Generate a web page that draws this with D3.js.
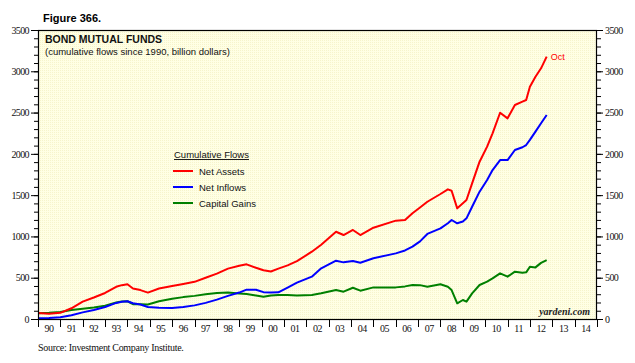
<!DOCTYPE html>
<html>
<head>
<meta charset="utf-8">
<script src="https://cdn.jsdelivr.net/npm/d3@7"></script>
<style>
  body { margin: 0; background: #fff; }
  svg { display: block; }
</style>
</head>
<body>
<svg id="chart" width="635" height="363"></svg>
<script>
// dates of the points
var dates = ["1990-01","1990-07","1991-01","1991-07","1992-01","1992-07","1993-01","1993-07","1993-10",
  "1994-01","1994-04","1994-08","1994-12","1995-06","1996-01","1996-07","1997-01","1997-07","1998-01",
  "1998-07","1999-01","1999-05","1999-10","2000-02","2000-06","2000-10","2001-03","2001-08","2002-04",
  "2002-09","2003-05","2003-09","2004-02","2004-06","2005-01","2006-01","2006-06","2006-10","2007-02",
  "2007-06","2008-01","2008-05","2008-07","2008-10","2009-01","2009-03","2009-06","2009-10","2010-02",
  "2010-05","2010-09","2011-01","2011-05","2011-09","2011-11","2012-01","2012-04","2012-07","2012-10"];

var netAssets = [73,65,75,130,210,260,315,390,410,
  420,370,350,320,370,400,425,450,500,550,
  610,645,662,620,590,575,610,650,700,815,
  900,1057,1017,1078,1017,1106,1191,1199,1280,1350,
  1420,1514,1570,1554,1340,1401,1441,1643,1905,2087,
  2249,2498,2430,2592,2632,2652,2813,2934,3036,3177];

var netInflows = [8,12,20,45,80,110,145,195,210,
  215,190,175,145,135,133,145,165,195,235,
  280,320,355,355,325,320,323,380,440,513,
  614,706,686,702,682,735,795,830,876,940,
  1030,1098,1160,1199,1159,1180,1219,1360,1542,1683,
  1804,1925,1925,2047,2080,2107,2170,2269,2370,2470];

var capitalGains = [70,75,85,110,125,140,160,200,212,
  215,180,180,175,215,245,265,280,300,315,
  320,310,303,285,270,285,290,290,285,290,
  311,351,331,379,343,383,383,395,412,410,
  391,420,391,351,190,230,210,311,412,452,
  492,553,513,573,561,565,633,625,680,714];

var yearLabels = ["90","91","92","93","94","95","96","97","98","99","00","01","02",
  "03","04","05","06","07","08","09","10","11","12","13","14"];
var yTicks = [0,500,1000,1500,2000,2500,3000,3500];

var seriesNames = ["Net Assets","Net Inflows","Capital Gains"];
var seriesColors = ["#ff0000","#0000ff","#008000"];
var seriesValues = [netAssets, netInflows, capitalGains];

var svg = d3.select("#chart");
var parse = d3.timeParse("%Y-%m");
var serif = "'Liberation Serif','Times New Roman',serif";
var sans = "'Liberation Sans',Arial,sans-serif";

// plot box (don't call these top/left: window.top is read-only)
var plotL = 38, plotR = 597, plotT = 30, plotB = 319;

var x = d3.scaleTime()
    .domain([new Date(1990,0,1), new Date(2015,0,1)])
    .range([plotL, plotR]);
var y = d3.scaleLinear()
    .domain([0, 3500])
    .range([plotB, plotT]);

// plot background with a faint dotted texture
var defs = svg.append("defs");
var pat = defs.append("pattern")
    .attr("id", "dots")
    .attr("width", 2).attr("height", 2)
    .attr("patternUnits", "userSpaceOnUse");
pat.append("rect").attr("width", 2).attr("height", 2).attr("fill", "#ffffe4");
pat.append("rect").attr("width", 1).attr("height", 1).attr("fill", "#f6f4cc");

svg.append("rect")
    .attr("x", plotL).attr("y", plotT)
    .attr("width", plotR - plotL).attr("height", plotB - plotT)
    .attr("fill", "url(#dots)");

// y axes, left and right
var yMinor = d3.range(0, 3501, 100);
var yAxisL = d3.axisLeft(y).tickValues(yTicks).tickSize(7).tickPadding(2).tickFormat(d3.format("d"));
var yAxisR = d3.axisRight(y).tickValues(yTicks).tickSize(6).tickPadding(2).tickFormat(d3.format("d"));

var gL = svg.append("g").attr("transform", "translate(" + plotL + ",0)");
gL.selectAll("line.minor").data(yMinor).enter().append("line")
    .attr("x1", -4).attr("x2", 0)
    .attr("y1", function(d) { return y(d) + 0.5; })
    .attr("y2", function(d) { return y(d) + 0.5; })
    .attr("stroke", "#000");
gL.call(yAxisL);

var gR = svg.append("g").attr("transform", "translate(" + plotR + ",0)");
gR.selectAll("line.minor").data(yMinor).enter().append("line")
    .attr("x1", 0).attr("x2", 4)
    .attr("y1", function(d) { return y(d) + 0.5; })
    .attr("y2", function(d) { return y(d) + 0.5; })
    .attr("stroke", "#000");
gR.call(yAxisR);

[gL, gR].forEach(function(g) {
    g.select(".domain").remove();
    g.selectAll("text").attr("font-family", serif).attr("font-size", "10px")
        .attr("fill", "#111").attr("letter-spacing", "-0.6px");
    g.selectAll(".tick line").attr("stroke", "#000");
});

// x axis: ticks at year starts, labels centred in the year
var yearStarts = d3.range(1990, 2016).map(function(yr) { return new Date(yr, 0, 1); });
var gX = svg.append("g").attr("transform", "translate(0," + plotB + ")");
gX.selectAll("line").data(yearStarts).enter().append("line")
    .attr("x1", function(d) { return Math.round(x(d)) + 0.5; })
    .attr("x2", function(d) { return Math.round(x(d)) + 0.5; })
    .attr("y1", 0).attr("y2", 8)
    .attr("stroke", "#000");
gX.selectAll("text").data(yearLabels).enter().append("text")
    .attr("x", function(d, i) { return x(new Date(1990 + i, 6, 1)); })
    .attr("y", 13)
    .attr("text-anchor", "middle")
    .attr("font-family", serif).attr("font-size", "10px").attr("fill", "#111")
    .attr("letter-spacing", "-0.5px")
    .text(function(d) { return d; });

// series lines
var line = d3.line()
    .x(function(d) { return x(d.date); })
    .y(function(d) { return y(d.value); });

// draw green first so red and blue sit on top
[2, 1, 0].forEach(function(j) {
    var pts = dates.map(function(d, i) { return {date: parse(d), value: seriesValues[j][i]}; });
    svg.append("path")
        .attr("d", line(pts))
        .attr("fill", "none")
        .attr("stroke", seriesColors[j])
        .attr("stroke-width", 2)
        .attr("stroke-linejoin", "round");
});

// plot frame
svg.append("rect")
    .attr("x", plotL + 0.5).attr("y", plotT + 0.5)
    .attr("width", plotR - plotL - 1).attr("height", plotB - plotT)
    .attr("fill", "none").attr("stroke", "#000").attr("stroke-width", 1.2);

// last point label
svg.append("text")
    .attr("x", x(parse(dates[dates.length - 1])) + 4)
    .attr("y", y(netAssets[netAssets.length - 1]) + 3)
    .attr("font-family", sans).attr("font-size", "9px").attr("fill", "#ff0000")
    .text("Oct");

// titles
svg.append("text").attr("x", 43).attr("y", 22)
    .attr("font-family", sans).attr("font-size", "11px").attr("font-weight", "bold")
    .text("Figure 366.");
svg.append("text").attr("x", 45).attr("y", 43)
    .attr("font-family", sans).attr("font-size", "10.5px").attr("font-weight", "bold")
    .attr("fill", "#111")
    .text("BOND MUTUAL FUNDS");
svg.append("text").attr("x", 45).attr("y", 55)
    .attr("font-family", sans).attr("font-size", "9.5px").attr("fill", "#111")
    .text("(cumulative flows since 1990, billion dollars)");

// legend
svg.append("text").attr("x", 174).attr("y", 158)
    .attr("font-family", sans).attr("font-size", "9.5px").attr("fill", "#111")
    .attr("text-decoration", "underline")
    .text("Cumulative Flows");
seriesNames.forEach(function(name, i) {
    var ly = 171 + i * 16;
    svg.append("line")
        .attr("x1", 173).attr("x2", 193)
        .attr("y1", ly).attr("y2", ly)
        .attr("stroke", seriesColors[i]).attr("stroke-width", 2);
    svg.append("text").attr("x", 199).attr("y", ly + 4)
        .attr("font-family", sans).attr("font-size", "9.5px").attr("fill", "#111")
        .text(name);
});

// watermark and source
svg.append("text").attr("x", 590).attr("y", 315)
    .attr("text-anchor", "end")
    .attr("font-family", serif).attr("font-size", "10px")
    .attr("font-weight", "bold").attr("font-style", "italic").attr("fill", "#222")
    .text("yardeni.com");
svg.append("text").attr("x", 38).attr("y", 351)
    .attr("font-family", serif).attr("font-size", "10px").attr("fill", "#111")
    .attr("letter-spacing", "-0.3px")
    .text("Source: Investment Company Institute.");
</script>
</body>
</html>
